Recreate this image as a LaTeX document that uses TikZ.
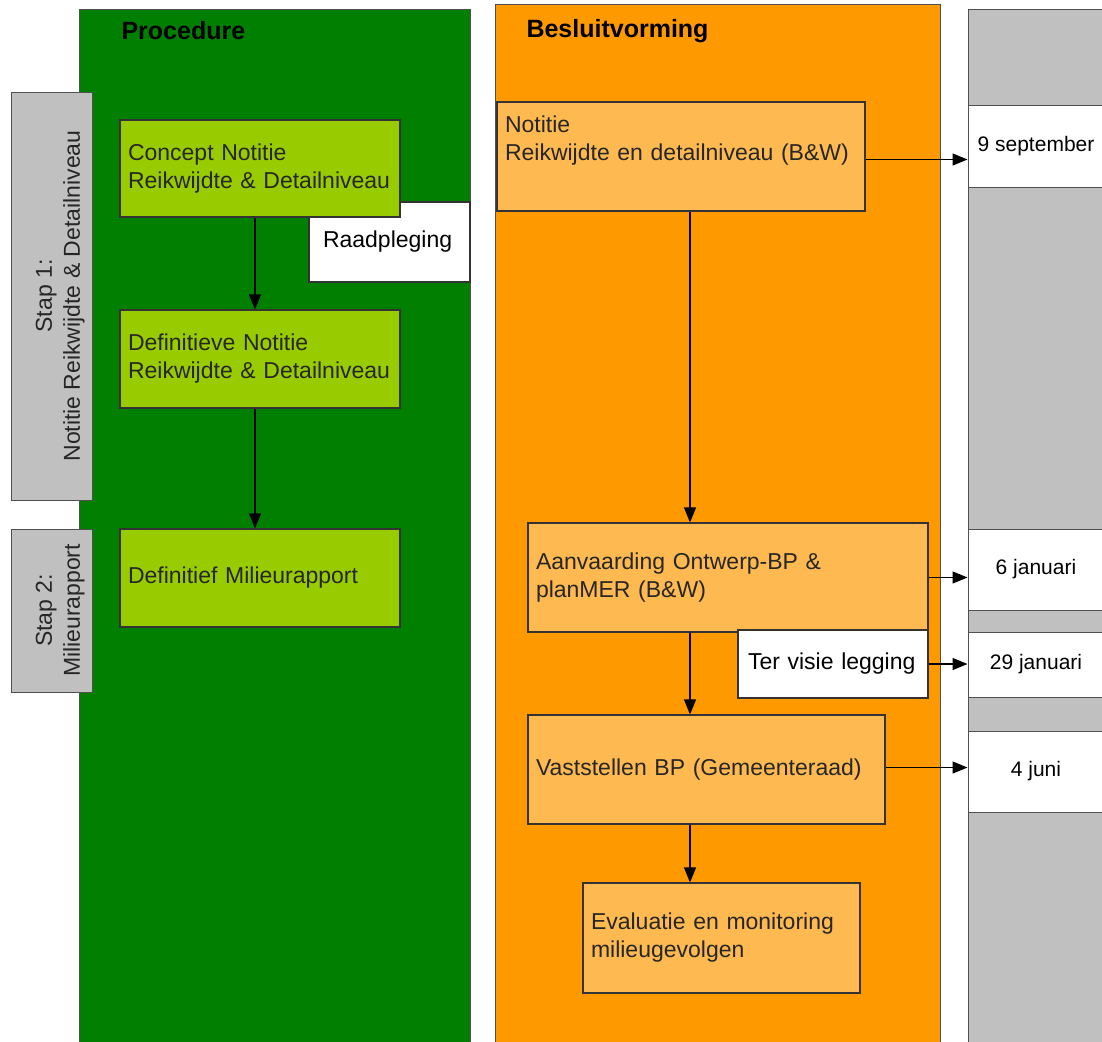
\documentclass[tikz,border=0pt]{standalone}
\usepackage{fontspec}
\setmainfont{Liberation Sans}
\usetikzlibrary{arrows.meta, positioning, calc}
\usepackage{xcolor}

\definecolor{laneGreen}{HTML}{007F00}
\definecolor{boxGreen}{HTML}{99CC00}
\definecolor{laneOrange}{HTML}{FF9900}
\definecolor{boxOrange}{HTML}{FFB951}
\definecolor{laneGray}{HTML}{C0C0C0}
\definecolor{edgeGray}{HTML}{505050}

\tikzset{
    lane/.style={draw=edgeGray, line width=1pt},
    stepbox/.style={draw=edgeGray, fill=laneGray, line width=1pt, rotate=90, align=center,
        font=\fontsize{23}{28}\selectfont, text=black!85},
    gbox/.style={draw=black!80, fill=boxGreen, line width=1.2pt, align=left, inner sep=8pt,
        font=\fontsize{23}{28}\selectfont, text=black!85},
    obox/.style={draw=black!80, fill=boxOrange, line width=1.2pt, align=left, inner sep=8pt,
        font=\fontsize{23}{28}\selectfont, text=black!85},
    wbox/.style={draw=black!80, fill=white, line width=1.2pt, align=left, inner sep=8pt,
        font=\fontsize{23}{28}\selectfont},
    datebox/.style={draw=edgeGray, fill=white, line width=1pt, align=center,
        minimum width=136pt, font=\fontsize{21}{26}\selectfont},
    title/.style={anchor=west, font=\fontsize{25}{30}\selectfont\bfseries},
    flow/.style={-{Triangle[length=15pt, width=12pt]}, line width=1.2pt, black}
}

\begin{document}
\begin{tikzpicture}[x=1pt, y=-1pt]
    \useasboundingbox (0,0) rectangle (1102,1041);
    \clip (0,0) rectangle (1102,1041);

    % swimlanes
    \draw[lane, fill=laneGreen] (79,10) rectangle (470,1060);
    \draw[lane, fill=laneOrange] (495,5) rectangle (940,1060);
    \draw[lane, fill=laneGray] (968,10) rectangle (1120,1060);
    \node[title] (procTitle) at (118,31) {Procedure};
    \node[title] (besTitle) at (523,31) {Besluitvorming};

    % stappen
    \node[stepbox, minimum width=408pt, minimum height=81pt] (stap1) at (51.5,296) {\strut\\[-14pt]Stap 1:\\Notitie Reikwijdte \& Detailniveau};
    \node[stepbox, minimum width=163pt, minimum height=81pt] (stap2) at (51.5,610.5) {\strut\\[-14pt]Stap 2:\\Milieurapport};

    % procedure
    \node[wbox, inner xsep=14pt, minimum width=161pt, minimum height=80pt, text width=133pt] (raad) at (389.5,242) {Raadpleging};
    \node[gbox, minimum width=280pt, minimum height=97pt, text width=264pt] (concept) at (260,168.5) {Concept Notitie\\Reikwijdte \& Detailniveau};
    \node[gbox, minimum width=280pt, minimum height=98pt, text width=264pt] (definitieve) at (260,359) {Definitieve Notitie\\Reikwijdte \& Detailniveau};
    \node[gbox, minimum width=280pt, minimum height=98pt, text width=264pt] (milieu) at (260,578) {Definitief Milieurapport};

    % besluitvorming
    \node[obox, minimum width=368pt, minimum height=109pt, text width=352pt] (notitie) at (681,156.5) {Notitie\\Reikwijdte en detailniveau (B\&W)\\\strut};
    \node[obox, minimum width=400pt, minimum height=109pt, text width=384pt] (aanv) at (728,577.5) {Aanvaarding Ontwerp-BP \&\\planMER (B\&W)};
    \node[wbox, inner xsep=10pt, minimum width=190pt, minimum height=68pt, text width=170pt] (visie) at (833,664) {Ter visie legging};
    \node[obox, minimum width=357pt, minimum height=109pt, text width=341pt] (vast) at (706.5,769.5) {Vaststellen BP (Gemeenteraad)};
    \node[obox, minimum width=277pt, minimum height=110pt, text width=261pt] (evalu) at (721.5,938) {Evaluatie en monitoring\\milieugevolgen};

    % data
    \node[datebox, minimum height=82pt] (sept) at (1036,146) {9 september};
    \node[datebox, minimum height=81pt] (jan6) at (1036,569.5) {6 januari};
    \node[datebox, minimum height=65pt] (jan29) at (1036,664.5) {29 januari};
    \node[datebox, minimum height=81pt] (juni) at (1036,771.5) {4 juni};

    \coordinate (spineL) at (255,0);
    \coordinate (spineR) at (690,0);

    \draw[flow] (concept.south -| spineL) -- (definitieve.north -| spineL);
    \draw[flow] (definitieve.south -| spineL) -- (milieu.north -| spineL);
    \draw[flow] (notitie.south -| spineR) -- (aanv.north -| spineR);
    \draw[flow] (aanv.south -| spineR) -- (vast.north -| spineR);
    \draw[flow] (vast.south -| spineR) -- (evalu.north -| spineR);

    \draw[flow] ([yshift=-3pt]notitie.east) -- ([yshift=-3pt]notitie.east -| sept.west);
    \draw[flow] (aanv.east) -- (aanv.east -| jan6.west);
    \draw[flow] (visie.east) -- (visie.east -| jan29.west);
    \draw[flow] ([yshift=2pt]vast.east) -- ([yshift=2pt]vast.east -| juni.west);
\end{tikzpicture}
\end{document}
